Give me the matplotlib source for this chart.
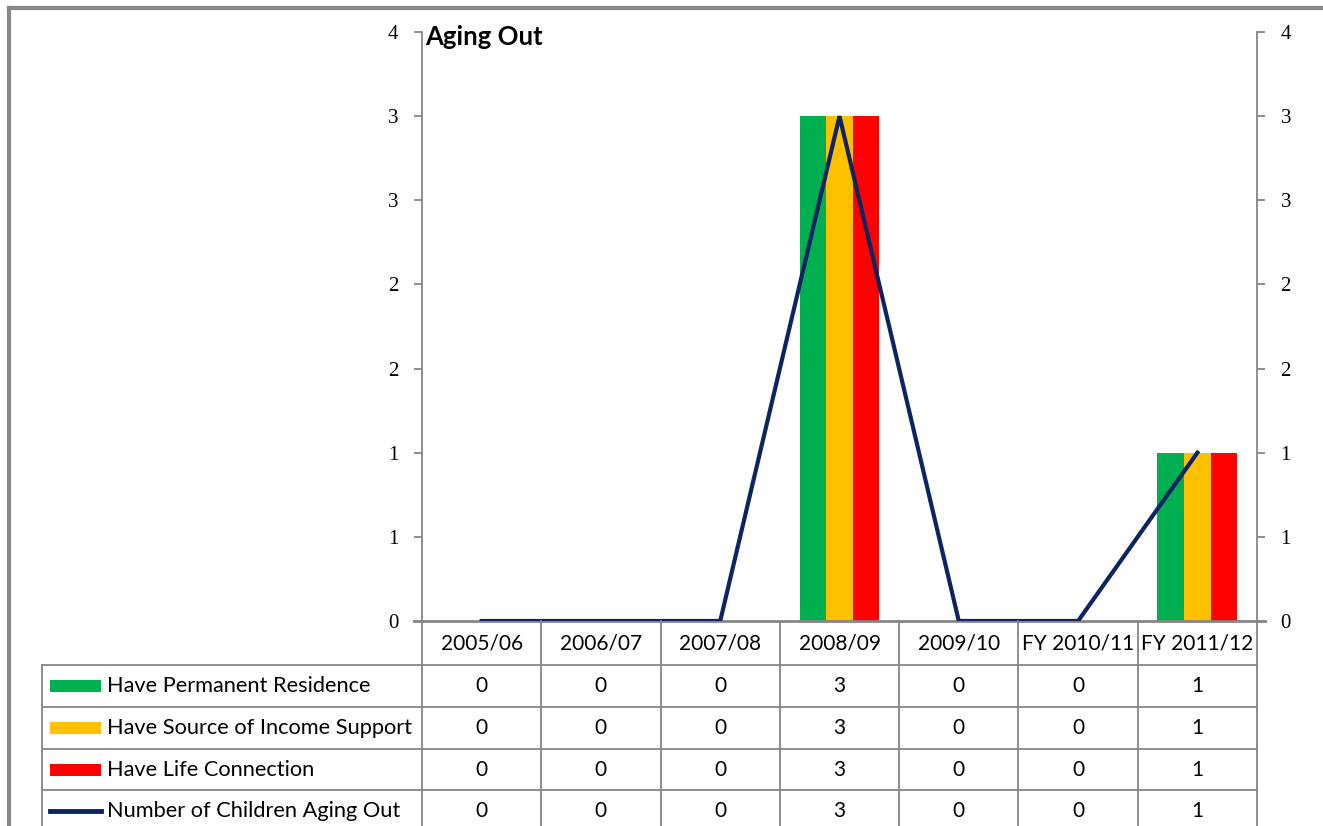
import matplotlib.pyplot as plt
import numpy as np
from matplotlib.lines import Line2D
from matplotlib.patches import Rectangle
from matplotlib.ticker import FuncFormatter
from matplotlib.transforms import blended_transform_factory

years = ["2005/06", "2006/07", "2007/08", "2008/09", "2009/10", "FY 2010/11", "FY 2011/12"]
residence = [0, 0, 0, 3, 0, 0, 1]
income = [0, 0, 0, 3, 0, 0, 1]
connection = [0, 0, 0, 3, 0, 0, 1]
aging_out = [0, 0, 0, 3, 0, 0, 1]

series_names = ["Have Permanent Residence", "Have Source of Income Support",
                "Have Life Connection", "Number of Children Aging Out"]
colors = ["#00B050", "#FFC000", "#FF0000", "#0C2461"]
grid_color = "#868686"

W, H = 1323, 826
fig = plt.figure(figsize=(W / 100, H / 100), dpi=100)
ax = fig.add_axes([422 / W, 1 - 621 / H, (1257 - 422) / W, (621 - 32) / H])

x = np.arange(len(years))
bw = 0.67 / 3
ax.bar(x - bw, residence, bw, color=colors[0], linewidth=0)
ax.bar(x, income, bw, color=colors[1], linewidth=0)
ax.bar(x + bw, connection, bw, color=colors[2], linewidth=0)
ax.plot(x, aging_out, color=colors[3], lw=3, zorder=3, solid_joinstyle="miter")

ax.set_xlim(-0.5, len(years) - 0.5)
ax.set_ylim(0, 3.5)
ax.set_yticks(np.arange(0, 3.51, 0.5))
ax.yaxis.set_major_formatter(FuncFormatter(lambda v, p: str(int(np.floor(v + 0.5)))))
ax.set_xticks([])
ax.tick_params(axis="y", left=True, right=True, labelleft=True, labelright=True,
               direction="out", length=6, width=1.3, color=grid_color, pad=11)
for lab in ax.get_yticklabels():
    lab.set_fontfamily("Liberation Serif")
    lab.set_fontsize(15)
ax.spines["top"].set_visible(False)
for s in ["left", "right", "bottom"]:
    ax.spines[s].set_color(grid_color)
    ax.spines[s].set_linewidth(1.3)
ax.spines["bottom"].set_linewidth(2)

ax.text(0.004, 1.012, "Aging Out", transform=ax.transAxes, ha="left", va="top",
        fontsize=18.5, fontweight="bold", family="Lato")

# data table below the plot
def fy(p):
    return 1 - p / H

def fx(p):
    return p / W

bt = blended_transform_factory(ax.transData, fig.transFigure)
lw = 1.3
# x-axis line extension to the left tick
fig.add_artist(Line2D([fx(414), fx(422)], [fy(621), fy(621)], color=grid_color, lw=2))
fig.add_artist(Line2D([fx(1257), fx(1265)], [fy(621), fy(621)], color=grid_color, lw=2))

row_lines = [665, 707, 749, 790]
for yl in row_lines:
    fig.add_artist(Line2D([fx(42), fx(1257)], [fy(yl), fy(yl)], color=grid_color, lw=lw))
fig.add_artist(Line2D([fx(42), fx(42)], [fy(665), 0], color=grid_color, lw=lw))
for b in np.arange(len(years) + 1) - 0.5:
    fig.add_artist(Line2D([b, b], [fy(621), 0], transform=bt, color=grid_color, lw=lw))

for i, yr in enumerate(years):
    fig.text(i, fy(643), yr, transform=bt, ha="center", va="center",
             fontsize=15, family="Lato")

row_centers = [686, 728, 770, 811]
table_rows = [residence, income, connection, aging_out]
for r, (vals, name, c) in enumerate(zip(table_rows, series_names, colors)):
    yc = row_centers[r]
    if r < 3:
        fig.add_artist(Rectangle((fx(50), fy(yc + 6)), fx(51), 12 / H,
                                 facecolor=c, edgecolor="none"))
    else:
        fig.add_artist(Line2D([fx(50), fx(101)], [fy(yc), fy(yc)], color=c, lw=3.5))
    fig.text(fx(107), fy(yc), name, ha="left", va="center", fontsize=15.7, family="Lato")
    for i, v in enumerate(vals):
        fig.text(i, fy(yc), str(v), transform=bt, ha="center", va="center",
                 fontsize=15, family="Lato")

# outer chart border
fig.add_artist(Line2D([fx(9), fx(9)], [fy(8), 0], color="#878787", lw=3))
fig.add_artist(Line2D([fx(9), 1], [fy(8), fy(8)], color="#878787", lw=3))

fig.savefig("out.png", dpi=100)
